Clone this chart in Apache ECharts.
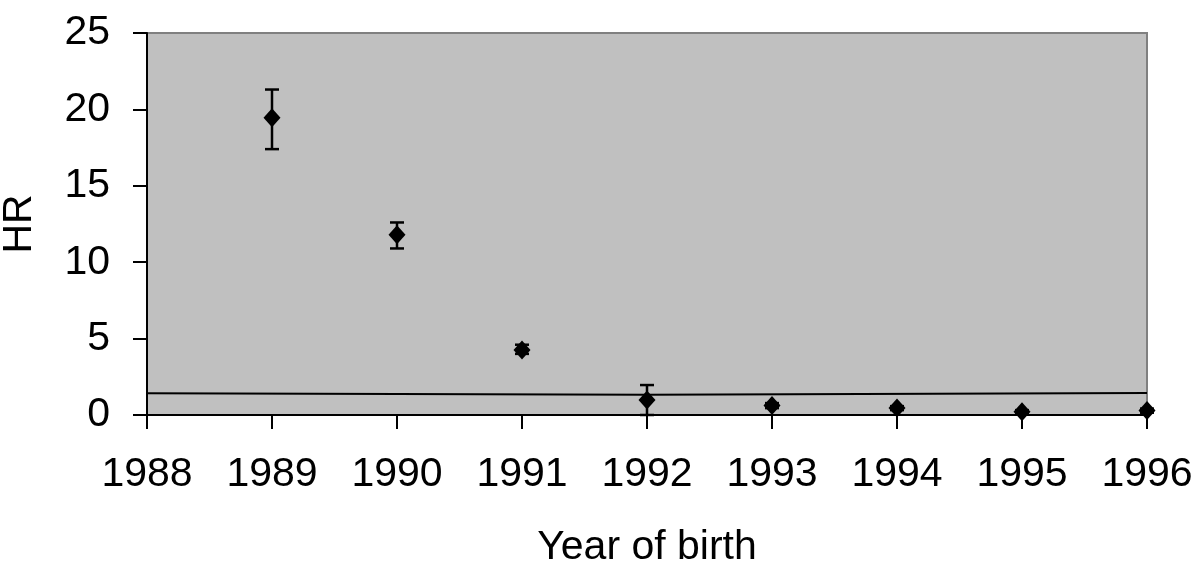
<!DOCTYPE html>
<html>
<head>
<meta charset="utf-8">
<script src="https://cdn.jsdelivr.net/npm/echarts@6/dist/echarts.min.js"></script>
<style>
  html, body { margin: 0; padding: 0; background: #fff; }
  #chart { width: 1200px; height: 576px; }
</style>
</head>
<body>
<div id="chart"></div>
<script>
// values
let years = [1989, 1990, 1991, 1992, 1993, 1994, 1995, 1996]
let hr = [19.45, 11.8, 4.25, 0.98, 0.62, 0.45, 0.22, 0.3]
let hrLow = [17.4, 10.9, 4.0, 0, 0.45, 0.32, 0.1, 0.15]
let hrHigh = [21.3, 12.6, 4.6, 1.96, 0.78, 0.58, 0.32, 0.42]
// reference line (slightly lower up to 1992)
let refLine = [[1988, 1.42], [1992, 1.32], [1992, 1.44], [1996, 1.44]]

let font = '"Liberation Sans", Arial, sans-serif'

let points = years.map((y, i) => [y, hr[i]])
let bars = years.map((y, i) => [y, hrLow[i], hrHigh[i]])

let chart = echarts.init(document.getElementById('chart'))
chart.setOption({
  animation: false,
  grid: {
    left: 147, right: 53, top: 33, bottom: 161,
    outerBoundsMode: 'none', containLabel: false,
    show: true, backgroundColor: '#c0c0c0', borderColor: '#808080', borderWidth: 2
  },
  xAxis: {
    type: 'value', min: 1988, max: 1996, interval: 1,
    name: 'Year of birth', nameLocation: 'middle', nameGap: 112,
    nameTextStyle: { fontFamily: font, fontSize: 41, color: '#000' },
    axisLine: { lineStyle: { color: '#000', width: 2 } },
    axisTick: { inside: false, length: 14, lineStyle: { color: '#000', width: 2 } },
    axisLabel: { fontFamily: font, fontSize: 41, color: '#000', margin: 39, formatter: v => String(v) },
    splitLine: { show: false }
  },
  yAxis: {
    type: 'value', min: 0, max: 25, interval: 5,
    name: 'HR', nameLocation: 'middle', nameGap: 107,
    nameTextStyle: { fontFamily: font, fontSize: 41, color: '#000' },
    axisLine: { show: true, lineStyle: { color: '#000', width: 2 } },
    axisTick: { show: true, length: 14, lineStyle: { color: '#000', width: 2 } },
    axisLabel: { fontFamily: font, fontSize: 41, color: '#000', margin: 37 },
    splitLine: { show: false }
  },
  series: [
    {
      type: 'line',
      data: refLine,
      showSymbol: false,
      lineStyle: { color: '#000', width: 2 },
      z: 2
    },
    {
      type: 'custom',
      data: bars,
      renderItem: (params, api) => {
        let x = api.value(0)
        let lo = api.coord([x, api.value(1)])
        let hi = api.coord([x, api.value(2)])
        let w = 7
        let style = { stroke: '#000', lineWidth: 2.5 }
        return {
          type: 'group',
          children: [
            { type: 'line', shape: { x1: lo[0], y1: lo[1], x2: hi[0], y2: hi[1] }, style },
            { type: 'line', shape: { x1: hi[0] - w, y1: hi[1], x2: hi[0] + w, y2: hi[1] }, style },
            { type: 'line', shape: { x1: lo[0] - w, y1: lo[1], x2: lo[0] + w, y2: lo[1] }, style }
          ]
        }
      },
      z: 3
    },
    {
      type: 'scatter',
      data: points,
      symbol: 'diamond',
      symbolSize: [17, 19],
      itemStyle: { color: '#000', opacity: 1 },
      z: 4
    }
  ]
})
</script>
</body>
</html>
